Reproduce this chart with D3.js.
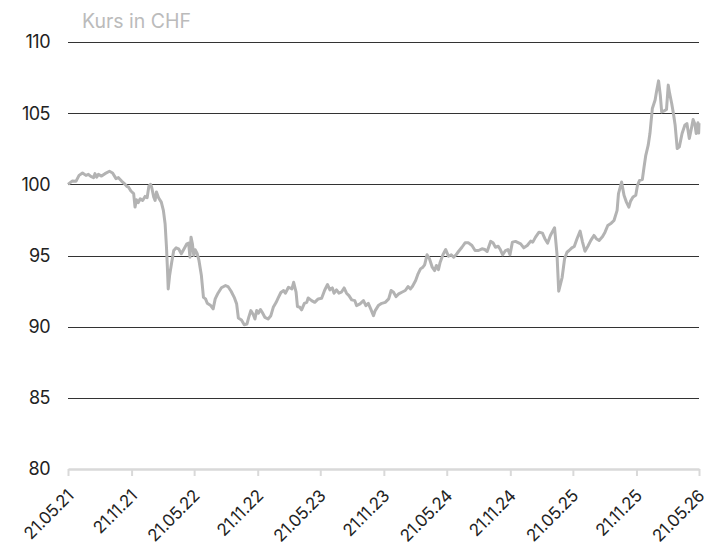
<!DOCTYPE html>
<html>

<head>
	<title>Kurs in CHF</title>
	<style>
		html,
		body {
			margin: 0;
			background: white;
		}
		svg text {
			font-family: Inter, "Liberation Sans", Arial, sans-serif;
		}
	</style>
	<script src="https://cdn.jsdelivr.net/npm/d3@7/dist/d3.min.js"></script>
</head>

<body>
	<svg id="svg" width="714" height="550"></svg>

	<script>
		const LINE_COLOR = '#b3b3b3';
		const GRID_COLOR = '#333333';
		const BASE_COLOR = '#d9d9d9';
		const FONT = 'Inter, "Liberation Sans", Arial, sans-serif';

		// data
		const dates = [
			'2021-05-21', '2021-06-02', '2021-06-13', '2021-06-22', '2021-07-02', '2021-07-12', '2021-07-19', '2021-07-26',
			'2021-08-03', '2021-08-07', '2021-08-12', '2021-08-17', '2021-08-26', '2021-09-05', '2021-09-18', '2021-09-27',
			'2021-10-07', '2021-10-14', '2021-10-23', '2021-10-31', '2021-11-07', '2021-11-12', '2021-11-19', '2021-11-27',
			'2021-12-01', '2021-12-05', '2021-12-10', '2021-12-16', '2021-12-23', '2021-12-30', '2022-01-05', '2022-01-10',
			'2022-01-15', '2022-01-18', '2022-01-24', '2022-01-28', '2022-02-01', '2022-02-07', '2022-02-15', '2022-02-21',
			'2022-02-26', '2022-03-02', '2022-03-05', '2022-03-07', '2022-03-11', '2022-03-17', '2022-03-23', '2022-03-30',
			'2022-04-06', '2022-04-14', '2022-04-22', '2022-04-30', '2022-05-05', '2022-05-09', '2022-05-12', '2022-05-16',
			'2022-05-20', '2022-05-24', '2022-05-30', '2022-06-04', '2022-06-11', '2022-06-17', '2022-06-23', '2022-06-28',
			'2022-07-08', '2022-07-15', '2022-07-21', '2022-07-29', '2022-08-08', '2022-08-20', '2022-08-27', '2022-09-05',
			'2022-09-14', '2022-09-21', '2022-09-26', '2022-10-05', '2022-10-13', '2022-10-21', '2022-10-26', '2022-11-01',
			'2022-11-08', '2022-11-13', '2022-11-18', '2022-11-23', '2022-11-29', '2022-12-04', '2022-12-12', '2022-12-21',
			'2022-12-29', '2023-01-05', '2023-01-13', '2023-01-19', '2023-01-27', '2023-02-04', '2023-02-09', '2023-02-18',
			'2023-02-28', '2023-03-05', '2023-03-12', '2023-03-16', '2023-03-23', '2023-03-28', '2023-04-05', '2023-04-12',
			'2023-04-16', '2023-04-26', '2023-05-05', '2023-05-15', '2023-05-25', '2023-06-03', '2023-06-11', '2023-06-18',
			'2023-06-25', '2023-06-30', '2023-07-07', '2023-07-14', '2023-07-21', '2023-07-29', '2023-08-05', '2023-08-12',
			'2023-08-20', '2023-08-29', '2023-09-03', '2023-09-13', '2023-09-23', '2023-09-30', '2023-10-07', '2023-10-14',
			'2023-10-22', '2023-10-27', '2023-11-05', '2023-11-15', '2023-11-25', '2023-12-05', '2023-12-12', '2023-12-19',
			'2023-12-26', '2024-01-03', '2024-01-12', '2024-01-22', '2024-01-30', '2024-02-06', '2024-02-12', '2024-02-21',
			'2024-02-28', '2024-03-06', '2024-03-13', '2024-03-18', '2024-03-25', '2024-04-01', '2024-04-09', '2024-04-16',
			'2024-04-21', '2024-04-27', '2024-05-02', '2024-05-10', '2024-05-18', '2024-05-26', '2024-06-03', '2024-06-10',
			'2024-06-17', '2024-06-24', '2024-07-04', '2024-07-13', '2024-07-23', '2024-08-02', '2024-08-11', '2024-08-21',
			'2024-08-31', '2024-09-08', '2024-09-15', '2024-09-25', '2024-10-02', '2024-10-09', '2024-10-17', '2024-10-23',
			'2024-10-30', '2024-11-07', '2024-11-14', '2024-11-20', '2024-11-27', '2024-12-06', '2024-12-21', '2024-12-30',
			'2025-01-09', '2025-01-19', '2025-01-25', '2025-02-02', '2025-02-12', '2025-02-22', '2025-03-01', '2025-03-09',
			'2025-03-17', '2025-03-29', '2025-04-05', '2025-04-10', '2025-04-20', '2025-04-27', '2025-05-04', '2025-05-10',
			'2025-05-18', '2025-05-25', '2025-06-02', '2025-06-11', '2025-06-18', '2025-06-25', '2025-07-03', '2025-07-12',
			'2025-07-21', '2025-07-28', '2025-08-05', '2025-08-15', '2025-08-22', '2025-08-30', '2025-09-09', '2025-09-17',
			'2025-09-26', '2025-09-30', '2025-10-09', '2025-10-16', '2025-10-23', '2025-10-30', '2025-11-04', '2025-11-11',
			'2025-11-19', '2025-11-24', '2025-11-30', '2025-12-08', '2025-12-13', '2025-12-18', '2025-12-25', '2025-12-30',
			'2026-01-06', '2026-01-14', '2026-01-18', '2026-01-24', '2026-01-29', '2026-02-02', '2026-02-09', '2026-02-16',
			'2026-02-21', '2026-02-25', '2026-03-03', '2026-03-08', '2026-03-13', '2026-03-19', '2026-03-25', '2026-04-02',
			'2026-04-10', '2026-04-16', '2026-04-23', '2026-04-29', '2026-05-04', '2026-05-09', '2026-05-13', '2026-05-18',
			'2026-05-20', '2026-05-21'
		];

		const prices = [
			100.00, 100.23, 100.21, 100.63, 100.80, 100.63, 100.70, 100.56,
			100.47, 100.75, 100.51, 100.70, 100.58, 100.75, 100.92, 100.80,
			100.40, 100.47, 100.23, 100.05, 99.86, 99.81, 99.53, 99.35,
			98.40, 98.92, 98.71, 98.99, 98.87, 99.15, 99.06, 99.86,
			100.00, 99.81, 99.11, 98.87, 99.46, 99.06, 98.75, 98.17,
			97.23, 95.58, 93.94, 92.65, 93.59, 94.51, 95.35, 95.54,
			95.47, 95.12, 95.47, 95.82, 95.87, 94.88, 96.29, 95.82,
			95.00, 95.40, 95.12, 94.65, 93.59, 92.06, 91.95, 91.64,
			91.48, 91.25, 91.95, 92.35, 92.73, 92.89, 92.82, 92.49,
			92.06, 91.60, 90.61, 90.47, 90.14, 90.19, 90.65, 91.13,
			90.85, 90.54, 91.13, 90.94, 91.20, 91.01, 90.65, 90.54,
			90.77, 91.36, 91.69, 92.00, 92.40, 92.54, 92.35, 92.77,
			92.65, 93.12, 92.42, 91.41, 91.36, 91.18, 91.64, 91.71,
			92.02, 91.83, 91.71, 91.95, 91.99, 92.58, 92.96, 92.58,
			92.72, 92.35, 92.58, 92.35, 92.42, 92.72, 92.35, 92.18,
			91.88, 91.83, 91.48, 91.60, 91.83, 91.48, 91.64, 91.25,
			90.77, 91.13, 91.48, 91.64, 91.71, 91.95, 92.54, 92.42,
			92.11, 92.30, 92.42, 92.54, 92.82, 92.65, 92.84, 93.24,
			93.71, 94.06, 94.18, 94.34, 95.05, 94.77, 94.18, 93.94,
			94.30, 94.01, 94.53, 95.05, 95.42, 94.95, 95.05, 94.88,
			95.05, 95.28, 95.58, 95.89, 95.89, 95.70, 95.35, 95.35,
			95.47, 95.42, 95.28, 95.99, 95.89, 95.58, 95.65, 95.42,
			95.05, 95.35, 95.42, 95.05, 95.94, 95.99, 95.82, 95.54,
			95.70, 96.01, 95.94, 96.29, 96.64, 96.57, 96.18, 95.87,
			96.41, 96.95, 95.12, 92.49, 93.47, 94.77, 95.23, 95.35,
			95.54, 95.63, 96.18, 96.71, 95.94, 95.30, 95.63, 96.06,
			96.41, 96.18, 96.06, 96.34, 96.64, 97.11, 97.27, 97.46,
			98.17, 99.35, 100.16, 99.23, 98.75, 98.40, 98.82, 99.11,
			99.23, 99.93, 100.28, 100.33, 101.22, 102.04, 102.75, 103.57,
			105.33, 105.92, 106.50, 107.27, 106.27, 105.09, 105.16, 105.26,
			106.97, 106.39, 105.68, 104.98, 104.15, 102.51, 102.63, 103.57,
			104.15, 104.27, 103.22, 103.92, 104.56, 104.23, 103.57, 104.32,
			103.60, 104.30
		];

		const tickDates = [
			'2021-05-21', '2021-11-21', '2022-05-21', '2022-11-21', '2023-05-21', '2023-11-21',
			'2024-05-21', '2024-11-21', '2025-05-21', '2025-11-21', '2026-05-21'
		];
		const yTicks = [80, 85, 90, 95, 100, 105, 110];
		const yLabel = 'Kurs in CHF';

		const parse = d3.timeParse('%Y-%m-%d');
		const fmt = d3.timeFormat('%d.%m.%y');

		const data = dates.map((d, i) => ({ date: parse(d), value: prices[i] }));

		const svg = d3.select('#svg'),
			plotLeft = 68,
			plotRight = 699,
			plotTop = 42,
			plotBottom = 469;

		const x = d3.scaleTime()
			.domain([parse(tickDates[0]), parse(tickDates[tickDates.length - 1])])
			.range([plotLeft, plotRight]);

		const y = d3.scaleLinear()
			.domain([80, 110])
			.range([plotBottom, plotTop]);

		// horizontal grid lines (80 is drawn as the light baseline)
		svg.append('g')
			.selectAll('line')
			.data(yTicks.filter(t => t !== 80))
			.join('line')
			.attr('x1', plotLeft)
			.attr('x2', plotRight)
			.attr('y1', d => Math.round(y(d)) + 0.5)
			.attr('y2', d => Math.round(y(d)) + 0.5)
			.attr('stroke', GRID_COLOR)
			.attr('stroke-width', 1.2);

		// y labels
		svg.append('g')
			.selectAll('text')
			.data(yTicks)
			.join('text')
			.attr('x', 50)
			.attr('y', d => y(d))
			.attr('dy', '0.36em')
			.attr('text-anchor', 'end')
			.attr('font-size', 18)
			.attr('letter-spacing', -0.5)
			.attr('fill', '#222')
			.text(d => d);

		// x axis
		const xAxis = svg.append('g')
			.attr('transform', `translate(0,${plotBottom})`)
			.call(d3.axisBottom(x)
				.tickValues(tickDates.map(parse))
				.tickSize(7)
				.tickSizeOuter(0)
				.tickFormat(fmt));

		xAxis.select('.domain')
			.attr('stroke', BASE_COLOR)
			.attr('stroke-width', 2.5);

		xAxis.selectAll('.tick line')
			.attr('stroke', BASE_COLOR)
			.attr('stroke-width', 2);

		xAxis.selectAll('.tick text')
			.attr('font-size', 17)
			.attr('font-family', FONT)
			.attr('letter-spacing', -0.4)
			.attr('fill', '#222')
			.attr('text-anchor', 'end')
			.attr('y', 0)
			.attr('dy', 0)
			.attr('transform', 'translate(6,28) rotate(-45)');

		// price line
		svg.append('path')
			.datum(data)
			.attr('fill', 'none')
			.attr('stroke', LINE_COLOR)
			.attr('stroke-width', 3)
			.attr('stroke-linejoin', 'round')
			.attr('d', d3.line()
				.x(d => x(d.date))
				.y(d => y(d.value)));

		// unit label
		svg.append('text')
			.attr('x', 82)
			.attr('y', 28)
			.attr('font-size', 19.5)
			.attr('fill', '#bbbbbb')
			.text(yLabel);
	</script>
</body>

</html>
